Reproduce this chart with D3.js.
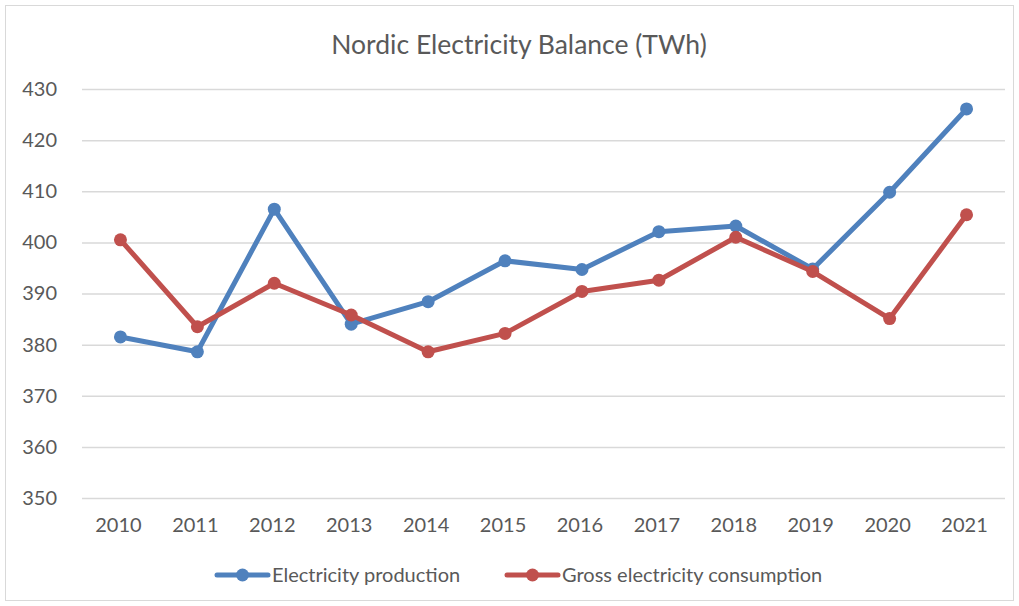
<!DOCTYPE html>
<html>
<head>
<meta charset="utf-8">
<script src="https://cdn.jsdelivr.net/npm/d3@7"></script>
<style>
  body { margin: 0; background: #fff; }
  svg { display: block; font-family: Lato, "Open Sans", sans-serif; }
</style>
</head>
<body>
<svg id="chart" width="1019" height="606"></svg>
<script>
const years = ['2010', '2011', '2012', '2013', '2014', '2015', '2016', '2017', '2018', '2019', '2020', '2021']
const production = [381.5, 378.6, 406.5, 384.0, 388.4, 396.4, 394.7, 402.1, 403.2, 394.8, 409.8, 426.1]
const consumption = [400.5, 383.5, 392.0, 385.8, 378.6, 382.2, 390.4, 392.6, 401.0, 394.3, 385.1, 405.4]
const yTicks = [350, 360, 370, 380, 390, 400, 410, 420, 430]
const seriesNames = ['Electricity production', 'Gross electricity consumption']

const W = 1019
const H = 606
// plot box
const LEFT = 82
const RIGHT = 1005
const TOP = 89
const BOTTOM = 498

const svg = d3.select('#chart')

// light frame round the chart
svg.append('rect')
  .attr('x', 5.5).attr('y', 5.5)
  .attr('width', W - 11).attr('height', H - 11)
  .attr('fill', 'none')
  .attr('stroke', '#d9d9d9')

svg.append('text')
  .attr('x', 519).attr('y', 54)
  .attr('text-anchor', 'middle')
  .attr('font-size', 26.5)
  .attr('fill', '#595959')
  .text('Nordic Electricity Balance (TWh)')

const x = d3.scaleBand().domain(years).range([LEFT, RIGHT])
const y = d3.scaleLinear().domain([350, 430]).range([BOTTOM, TOP])

// gridlines + y labels
const yAxis = d3.axisLeft(y).tickValues(yTicks).tickSize(-(RIGHT - LEFT)).tickPadding(25)
svg.append('g')
  .attr('transform', `translate(${LEFT},0)`)
  .call(yAxis)
  .call((g) => {
    g.select('.domain').remove()
    g.selectAll('.tick line').attr('stroke', '#d9d9d9').attr('stroke-width', 1.5)
    g.selectAll('.tick text').attr('fill', '#595959').attr('font-size', 20).attr('font-family', 'Lato, sans-serif')
  })

// x labels
const xAxis = d3.axisBottom(x).tickSize(0).tickPadding(20)
svg.append('g')
  .attr('transform', `translate(-2,${BOTTOM})`)
  .call(xAxis)
  .call((g) => {
    g.select('.domain').remove()
    g.selectAll('.tick text').attr('fill', '#595959').attr('font-size', 20).attr('font-family', 'Lato, sans-serif')
  })

const cx = (d, i) => x(years[i]) + x.bandwidth() / 2
const line = d3.line().x(cx).y((d) => y(d))

const series = [
  { name: seriesNames[0], values: production, color: '#4f81bd' },
  { name: seriesNames[1], values: consumption, color: '#c0504d' }
]

series.forEach((s) => {
  svg.append('path')
    .datum(s.values)
    .attr('d', line)
    .attr('fill', 'none')
    .attr('stroke', s.color)
    .attr('stroke-width', 5)
    .attr('stroke-linejoin', 'round')
    .attr('stroke-linecap', 'round')
  svg.append('g')
    .selectAll('circle')
    .data(s.values)
    .join('circle')
    .attr('cx', cx)
    .attr('cy', (d) => y(d))
    .attr('r', 6.5)
    .attr('fill', s.color)
})

// legend
const legendItems = [
  { x: 217, color: series[0].color, name: series[0].name },
  { x: 507, color: series[1].color, name: series[1].name }
]
const lg = svg.append('g').selectAll('g').data(legendItems).join('g')
  .attr('transform', (d) => `translate(${d.x},575)`)
lg.append('line')
  .attr('x1', 0).attr('x2', 51)
  .attr('stroke', (d) => d.color).attr('stroke-width', 5).attr('stroke-linecap', 'round')
lg.append('circle').attr('cx', 25.5).attr('r', 6.5).attr('fill', (d) => d.color)
lg.append('text')
  .attr('x', 55).attr('dy', '0.35em')
  .attr('font-size', 20).attr('fill', '#595959')
  .text((d) => d.name)
</script>
</body>
</html>
